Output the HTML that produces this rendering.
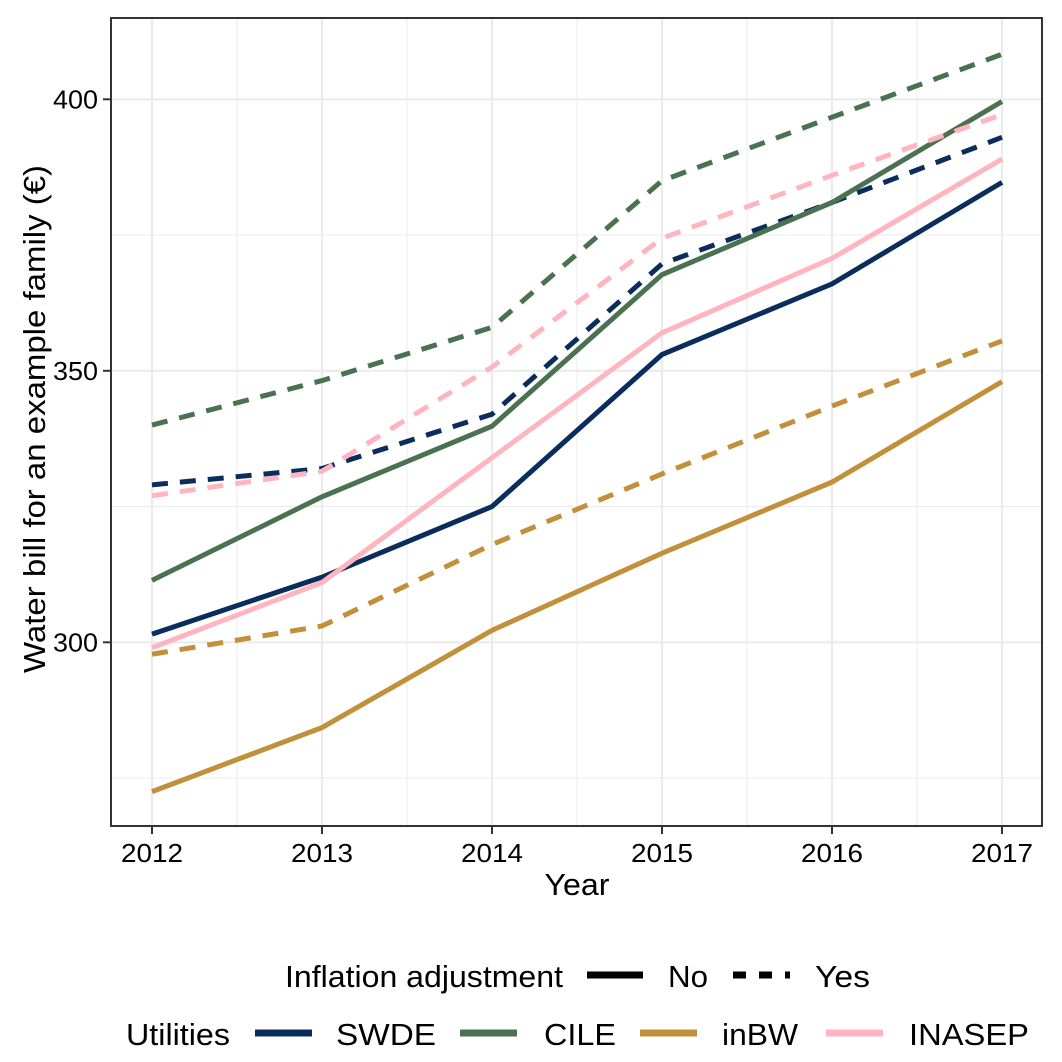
<!DOCTYPE html>
<html><head><meta charset="utf-8"><style>body{margin:0;background:#fff}svg{display:block;font-family:"Liberation Sans",sans-serif}</style></head>
<body>
<svg id="c" width="1062" height="1062"></svg>
<script>
const years=[2012,2013,2014,2015,2016,2017];
const utilities=["SWDE","CILE","inBW","INASEP"];
const swdeNo=[301.5,312,325,353,366,384.7];
const swdeYes=[329,332,342,369.7,381,393];
const cileNo=[311.4,326.8,339.8,367.7,381,399.6];
const cileYes=[340,348.2,358,385,396.7,408.3];
const inbwNo=[272.5,284.3,302.2,316.4,329.5,348];
const inbwYes=[297.8,303,318,331,343.5,355.5];
const inasepNo=[299,311,334,357,370.7,389];
const inasepYes=[327,331.5,350.7,374.4,386,397.2];
const yTicks=[300,350,400];
const yMinor=[275,325,375];
const colors={SWDE:"#0b2d5c",CILE:"#4b7250",inBW:"#c28f3b",INASEP:"#ffb5c0"};
const NS="http://www.w3.org/2000/svg";
const svg=document.getElementById('c');
const L=111,R=1042,T=18,B=826;
const x=v=>152+(v-2012)*170;
const y=v=>99.3+(400-v)*5.43;
function el(t,a,p){const e=document.createElementNS(NS,t);for(const k in a)e.setAttribute(k,a[k]);(p||svg).appendChild(e);return e;}
const grid=el('g',{});
yMinor.forEach(v=>el('line',{x1:L,x2:R,y1:y(v),y2:y(v),stroke:'#ebebeb','stroke-width':1},grid));
years.slice(0,-1).forEach(v=>el('line',{x1:x(v+0.5),x2:x(v+0.5),y1:T,y2:B,stroke:'#ebebeb','stroke-width':1},grid));
yTicks.forEach(v=>el('line',{x1:L,x2:R,y1:y(v),y2:y(v),stroke:'#ebebeb','stroke-width':2.2},grid));
years.forEach(v=>el('line',{x1:x(v),x2:x(v),y1:T,y2:B,stroke:'#ebebeb','stroke-width':2.2},grid));
const series=[["SWDE",swdeNo,swdeYes],["CILE",cileNo,cileYes],["inBW",inbwNo,inbwYes],["INASEP",inasepNo,inasepYes]];
series.forEach(([n,no,yes])=>{
 [[yes,true],[no,false]].forEach(([d,dash])=>{
  const p=el('polyline',{points:d.map((v,i)=>x(years[i])+','+y(v)).join(' '),fill:'none',stroke:colors[n],'stroke-width':5,'stroke-dasharray':dash?'16 12':'none'});
  
  
 });
});
const fr=el('rect',{x:L,y:T,width:R-L,height:B-T,fill:'none',stroke:'#333','stroke-width':2});

const LA='spacingAndGlyphs';
yTicks.forEach(v=>{el('line',{x1:L-8,x2:L,y1:y(v),y2:y(v),stroke:'#333','stroke-width':2});
 const t=el('text',{x:L-13,y:y(v)+9,'text-anchor':'end','font-size':26,textLength:45,lengthAdjust:LA});t.textContent=v;
 });
years.forEach(v=>{el('line',{x1:x(v),x2:x(v),y1:B,y2:B+8,stroke:'#333','stroke-width':2});
 const t=el('text',{x:x(v),y:B+36,'text-anchor':'middle','font-size':26,textLength:62,lengthAdjust:LA});t.textContent=v;
 });
const xt=el('text',{x:577,y:895,'text-anchor':'middle','font-size':31,textLength:65,lengthAdjust:LA});xt.textContent='Year';

const yt=el('text',{x:0,y:0,'text-anchor':'middle','font-size':31,textLength:508,lengthAdjust:LA,transform:'translate(45,419) rotate(-90)'});yt.textContent='Water bill for an example family (€)';

function txt(s,xx,yy,w,name){const t=el('text',{x:xx,y:yy,'font-size':31,textLength:w,lengthAdjust:LA});t.textContent=s;}
txt('Inflation adjustment',285,987,278,'legend-title-inflation');
el('line',{x1:587,x2:643,y1:975,y2:975,stroke:'#000','stroke-width':7});
txt('No',668,987,40,'legend-entry-no');
el('line',{x1:733,x2:790,y1:975,y2:975,stroke:'#000','stroke-width':7,'stroke-dasharray':'13 13'});
txt('Yes',815,987,55,'legend-entry-yes');
txt('Utilities',126,1045,104,'legend-title-utilities');
const lx=[[255,336,100],[460,544,72],[640,722,76],[826,909,120]];
utilities.forEach((u,i)=>{el('line',{x1:lx[i][0],x2:lx[i][0]+57,y1:1033,y2:1033,stroke:colors[u],'stroke-width':7});txt(u,lx[i][1],1045,lx[i][2],'legend-entry-'+u.toLowerCase());});
</script>
</body></html>
